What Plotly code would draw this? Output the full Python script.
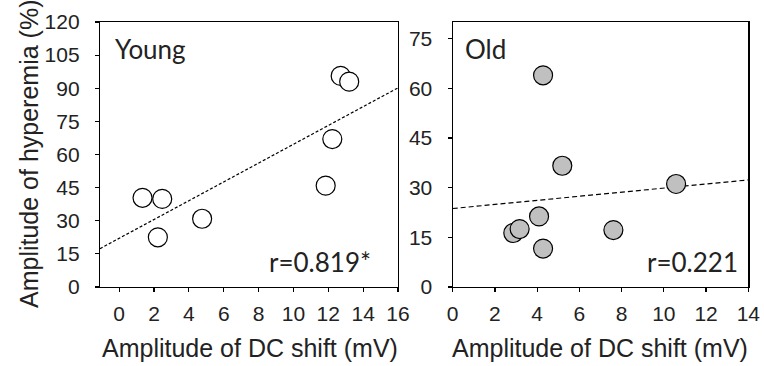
import numpy as np
import plotly.graph_objects as go

# ---- data ----
young_x = [1.34, 2.47, 2.22, 4.76, 11.85, 12.23, 12.71, 13.20]
young_y = [40.4, 39.9, 22.5, 30.9, 45.9, 67.0, 95.6, 93.0]
old_x = [4.28, 5.19, 10.58, 4.09, 2.87, 3.17, 4.28, 7.61]
old_y = [63.9, 36.6, 31.1, 21.3, 16.3, 17.5, 11.6, 17.2]

young_xrange = [-1.1, 16]
young_yrange = [0, 120]
old_xrange = [0, 14]
old_yrange = [0, 80]

young_xticks = list(range(0, 17, 2))
young_yticks = list(range(0, 121, 15))
old_xticks = list(range(0, 15, 2))
old_yticks = list(range(0, 76, 15))

young_label = "Young"
old_label = "Old"
young_r = "r=0.819*"
old_r = "r=0.221"
x_title = "Amplitude of DC shift (mV)"
y_title = "Amplitude of hyperemia (%)"

# ---- regression lines from data ----
def fit_line(x, y, xr):
    k, b = np.polyfit(x, y, 1)
    xs = np.array(xr, dtype=float)
    return xs, k * xs + b

yl_x, yl_y = fit_line(young_x, young_y, young_xrange)
ol_x, ol_y = fit_line(old_x, old_y, old_xrange)

W, H = 764, 366
def px(v):
    return v / W
def py(v):
    return (H - v) / H

fig = go.Figure()

# Young panel
fig.add_trace(go.Scatter(x=yl_x, y=yl_y, mode="lines",
                         line=dict(color="black", width=1.2, dash="3px,2px"),
                         xaxis="x", yaxis="y", showlegend=False, hoverinfo="skip"))
fig.add_trace(go.Scatter(x=young_x, y=young_y, mode="markers",
                         marker=dict(size=19, color="white",
                                     line=dict(color="black", width=1.2)),
                         xaxis="x", yaxis="y", showlegend=False))
# Old panel
fig.add_trace(go.Scatter(x=ol_x, y=ol_y, mode="lines",
                         line=dict(color="black", width=1.2, dash="5px,3px"),
                         xaxis="x2", yaxis="y2", showlegend=False, hoverinfo="skip"))
fig.add_trace(go.Scatter(x=old_x, y=old_y, mode="markers",
                         marker=dict(size=19, color="#c0c0c0",
                                     line=dict(color="black", width=1.2)),
                         xaxis="x2", yaxis="y2", showlegend=False))

tickfont = dict(family="Liberation Sans, Arial, sans-serif", size=21, color="#222222")
common = dict(showline=True, linecolor="black", linewidth=1.2, mirror=True,
              ticks="outside", ticklen=4, tickwidth=1.2, tickcolor="black",
              showgrid=False, zeroline=False, tickfont=tickfont, fixedrange=True,
              automargin=False)

ydom = [py(287), py(22)]
fig.update_layout(
    template="none",
    width=W, height=H, autosize=False,
    margin=dict(l=0, r=0, t=0, b=0, pad=0),
    showlegend=False,
    paper_bgcolor="white", plot_bgcolor="white",
    xaxis=dict(domain=[px(100), px(398)], range=young_xrange,
               tickvals=young_xticks, anchor="y", ticklabelstandoff=4, **common),
    yaxis=dict(domain=ydom, range=young_yrange, tickvals=young_yticks,
               anchor="x", ticklabelstandoff=11, **common),
    xaxis2=dict(domain=[px(452.7), px(748.3)], range=old_xrange,
                tickvals=old_xticks, anchor="y2", ticklabelstandoff=4, **common),
    yaxis2=dict(domain=ydom, range=old_yrange, tickvals=old_yticks,
                anchor="x2", ticklabelstandoff=11, **common),
)

lblfont = dict(family="Lato, Open Sans, sans-serif", size=26, color="#222222")
titlefont = dict(family="Liberation Sans, Arial, sans-serif", size=25, color="#222222")

ann = [
    dict(text=young_label, xref="x domain", yref="y domain", x=0.044, y=0.898,
         xanchor="left", yanchor="middle", font=lblfont),
    dict(text=young_r, xref="x domain", yref="y domain", x=0.916, y=0.094,
         xanchor="right", yanchor="middle", font=lblfont),
    dict(text=old_label, xref="x2 domain", yref="y2 domain", x=0.035, y=0.898,
         xanchor="left", yanchor="middle", font=lblfont),
    dict(text=old_r, xref="x2 domain", yref="y2 domain", x=0.972, y=0.094,
         xanchor="right", yanchor="middle", font=lblfont),
    dict(text=x_title, xref="paper", yref="paper", x=px(250), y=py(348),
         xanchor="center", yanchor="middle", font=titlefont),
    dict(text=x_title, xref="paper", yref="paper", x=px(600), y=py(348),
         xanchor="center", yanchor="middle", font=titlefont),
    dict(text=y_title, xref="paper", yref="paper", x=px(29), y=py(154),
         xanchor="center", yanchor="middle", textangle=-90, font=titlefont),
]
for a in ann:
    a["showarrow"] = False
fig.update_layout(annotations=ann)

fig.write_html("out.html",
               config={"displayModeBar": False, "staticPlot": True},
               post_script="document.body.style.margin='0';document.body.style.padding='0';document.body.style.overflow='hidden';")
